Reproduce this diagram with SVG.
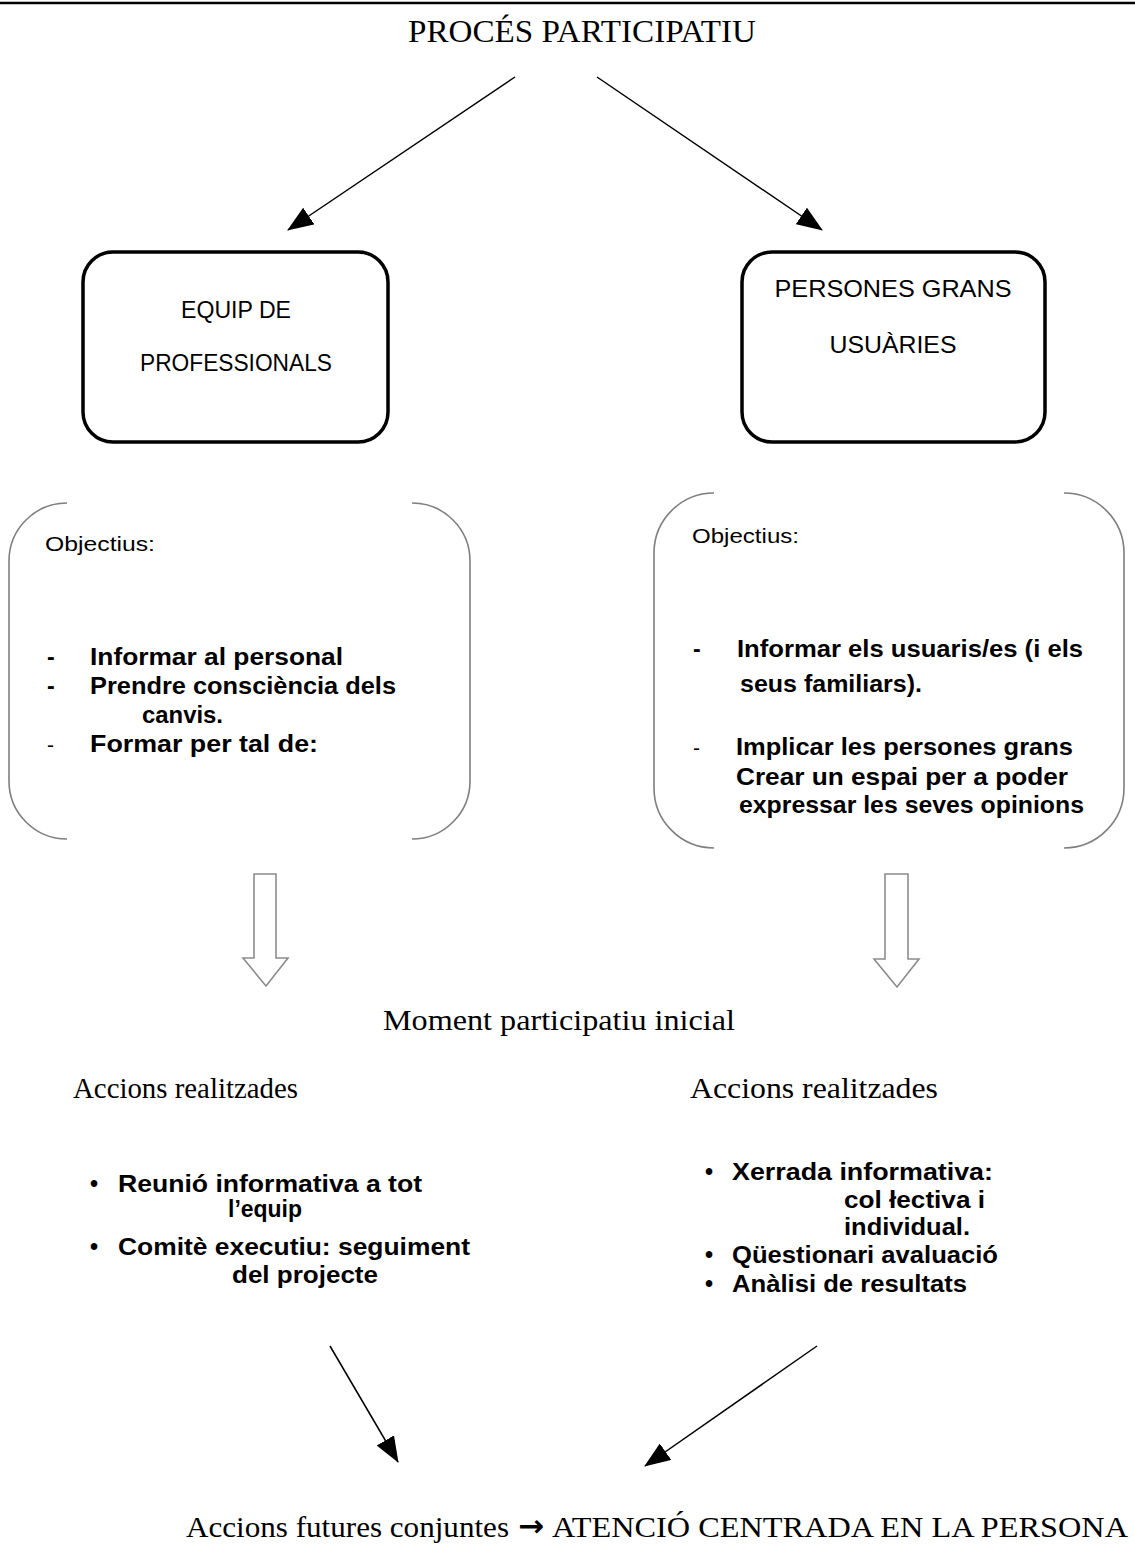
<svg xmlns="http://www.w3.org/2000/svg" width="1135" height="1553" viewBox="0 0 1135 1553">
<style>
.serif{font-family:"Liberation Serif","Times New Roman",serif;fill:#000}
.box{fill:#fff;stroke:#000;stroke-width:3.5}
.brk{fill:none;stroke:#7f7f7f;stroke-width:1.6}
.hollow{fill:#fff;stroke:#8c8c8c;stroke-width:1.6}
.lbl{font-family:"Liberation Sans",Arial,sans-serif;fill:#000}
.reg{font-family:"Liberation Sans",Arial,sans-serif;font-size:21px;fill:#000}
.bold{font-family:"Liberation Sans",Arial,sans-serif;font-size:23px;font-weight:bold;fill:#000}
.conn{stroke:#000;stroke-width:1.5;fill:none}
</style>
<defs>
<marker id="ah" markerUnits="userSpaceOnUse" markerWidth="26" markerHeight="20" refX="25" refY="10" orient="auto">
<path d="M0,0 L26,10 L0,20 z" fill="#000"/>
</marker>
</defs>
<rect width="1135" height="1553" fill="#fff"/>
<line x1="0" y1="3" x2="1135" y2="3" stroke="#000" stroke-width="2.5"/>
<text class="serif" x="408" y="42" font-size="31" textLength="348" lengthAdjust="spacingAndGlyphs">PROCÉS PARTICIPATIU</text>

<g id="connectors">
<line class="conn" x1="515" y1="77" x2="288" y2="230" marker-end="url(#ah)"/>
<line class="conn" x1="597" y1="77" x2="822" y2="230" marker-end="url(#ah)"/>
<polygon class="hollow" points="254,874 276,874 276,958 288,958 266,986 243,958 254,958"/>
<polygon class="hollow" points="885,874 908,874 908,959 919,959 897,987 874,959 885,959"/>
<line class="conn" x1="330" y1="1346" x2="398" y2="1462" marker-end="url(#ah)"/>
<line class="conn" x1="817" y1="1346" x2="645" y2="1466" marker-end="url(#ah)"/>
</g>

<g id="node-equip">
<rect class="box" x="83" y="252" width="305" height="190" rx="30"/>
<text class="lbl" x="236" y="318" font-size="24" text-anchor="middle" textLength="110" lengthAdjust="spacingAndGlyphs">EQUIP DE</text>
<text class="lbl" x="236" y="371" font-size="24" text-anchor="middle" textLength="192" lengthAdjust="spacingAndGlyphs">PROFESSIONALS</text>
</g>

<g id="node-persones">
<rect class="box" x="742" y="252" width="303" height="190" rx="30"/>
<text class="lbl" x="893" y="297" font-size="24" text-anchor="middle" textLength="237" lengthAdjust="spacingAndGlyphs">PERSONES GRANS</text>
<text class="lbl" x="893" y="353" font-size="24" text-anchor="middle" textLength="127" lengthAdjust="spacingAndGlyphs">USUÀRIES</text>
</g>

<g id="node-objectius-equip">
<path class="brk" d="M67,503 A58,58 0 0 0 9,561 L9,781 A58,58 0 0 0 67,839"/>
<path class="brk" d="M412,503 A58,58 0 0 1 470,561 L470,781 A58,58 0 0 1 412,839"/>
<text class="reg" x="45" y="551" textLength="110" lengthAdjust="spacingAndGlyphs">Objectius:</text>
<text class="bold" x="47" y="665">-</text>
<text class="bold" x="90" y="665" textLength="253" lengthAdjust="spacingAndGlyphs">Informar al personal</text>
<text class="bold" x="47" y="694">-</text>
<text class="bold" x="90" y="694" textLength="306" lengthAdjust="spacingAndGlyphs">Prendre consciència dels</text>
<text class="bold" x="142" y="723" textLength="81" lengthAdjust="spacingAndGlyphs">canvis.</text>
<text class="reg" x="47" y="752">-</text>
<text class="bold" x="90" y="752" textLength="228" lengthAdjust="spacingAndGlyphs">Formar per tal de:</text>
</g>

<g id="node-objectius-persones">
<path class="brk" d="M714,493 A60,60 0 0 0 654,553 L654,788 A60,60 0 0 0 714,848"/>
<path class="brk" d="M1064,493 A60,60 0 0 1 1124,553 L1124,788 A60,60 0 0 1 1064,848"/>
<text class="reg" x="692" y="543" textLength="107" lengthAdjust="spacingAndGlyphs">Objectius:</text>
<text class="bold" x="693" y="657">-</text>
<text class="bold" x="737" y="657" textLength="346" lengthAdjust="spacingAndGlyphs">Informar els usuaris/es (i els</text>
<text class="bold" x="740" y="692" textLength="182" lengthAdjust="spacingAndGlyphs">seus familiars).</text>
<text class="reg" x="693" y="755">-</text>
<text class="bold" x="736" y="755" textLength="337" lengthAdjust="spacingAndGlyphs">Implicar les persones grans</text>
<text class="bold" x="736" y="785" textLength="332" lengthAdjust="spacingAndGlyphs">Crear un espai per a poder</text>
<text class="bold" x="739" y="813" textLength="345" lengthAdjust="spacingAndGlyphs">expressar les seves opinions</text>
</g>

<g id="node-moment">
<text class="serif" x="383" y="1030" font-size="29" textLength="352" lengthAdjust="spacingAndGlyphs">Moment participatiu inicial</text>
</g>

<g id="node-accions-equip">
<text class="serif" x="73" y="1098" font-size="29" textLength="225" lengthAdjust="spacingAndGlyphs">Accions realitzades</text>
<text class="bold" x="90" y="1192">•</text>
<text class="bold" x="118" y="1192" textLength="304" lengthAdjust="spacingAndGlyphs">Reunió informativa a tot</text>
<text class="bold" x="228" y="1217" textLength="74" lengthAdjust="spacingAndGlyphs">l’equip</text>
<text class="bold" x="90" y="1255">•</text>
<text class="bold" x="118" y="1255" textLength="352" lengthAdjust="spacingAndGlyphs">Comitè executiu: seguiment</text>
<text class="bold" x="232" y="1283" textLength="146" lengthAdjust="spacingAndGlyphs">del projecte</text>
</g>

<g id="node-accions-persones">
<text class="serif" x="690" y="1098" font-size="29" textLength="248" lengthAdjust="spacingAndGlyphs">Accions realitzades</text>
<text class="bold" x="705" y="1180">•</text>
<text class="bold" x="732" y="1180" textLength="261" lengthAdjust="spacingAndGlyphs">Xerrada informativa:</text>
<text class="bold" x="844" y="1208" textLength="141" lengthAdjust="spacingAndGlyphs">col łectiva i</text>
<text class="bold" x="844" y="1235" textLength="126" lengthAdjust="spacingAndGlyphs">individual.</text>
<text class="bold" x="705" y="1263">•</text>
<text class="bold" x="732" y="1263" textLength="266" lengthAdjust="spacingAndGlyphs">Qüestionari avaluació</text>
<text class="bold" x="705" y="1292">•</text>
<text class="bold" x="732" y="1292" textLength="235" lengthAdjust="spacingAndGlyphs">Anàlisi de resultats</text>
</g>

<g id="node-futures">
<text class="serif" x="186" y="1537" font-size="29" textLength="323" lengthAdjust="spacingAndGlyphs">Accions futures conjuntes</text>
<text x="518" y="1536" font-family="DejaVu Sans, sans-serif" font-weight="bold" font-size="30" textLength="26" lengthAdjust="spacingAndGlyphs">→</text>
<text class="serif" x="552" y="1537" font-size="29" textLength="576" lengthAdjust="spacingAndGlyphs">ATENCIÓ CENTRADA EN LA PERSONA</text>
</g>
</svg>
